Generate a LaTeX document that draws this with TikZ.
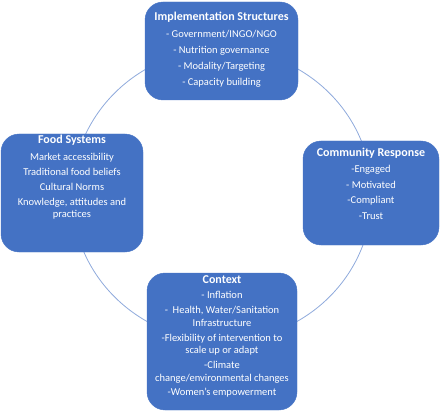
\documentclass[tikz,border=0pt]{standalone}
\usepackage{fontspec}
\setmainfont{Carlito}
\usetikzlibrary{positioning}
\definecolor{boxblue}{HTML}{4472C4}
\definecolor{ringblue}{HTML}{8FAADC}

\begin{document}
\begin{tikzpicture}[x=1pt,y=-1pt]

\tikzstyle{block} = [fill=boxblue, draw=boxblue, rounded corners=18pt, inner sep=0pt]
\tikzstyle{boxtext} = [text=white, align=center, inner sep=0pt, font=\fontsize{10.5}{12.5}\selectfont]
\tikzstyle{ring} = [draw=ringblue, line width=0.8pt]

\useasboundingbox (0,0) rectangle (440,412);

% Ring behind the boxes
\coordinate (centre) at (222,195);
\draw [ring] (centre) ellipse [x radius=150pt, y radius=146pt];

% Boxes
\node (impl) [block, minimum width=153pt, minimum height=98pt] at (221.5,51) {};
\node (food) [block, minimum width=142pt, minimum height=118pt] at (72,193) {};
\node (comm) [block, minimum width=136pt, minimum height=104pt] at (371,193) {};
\node (ctx) [block, minimum width=150pt, minimum height=137pt] at (222,341.5) {};

% Texts
\node (impltext) [boxtext, below=10pt of impl.north] {{\fontsize{12}{14}\selectfont\bfseries Implementation Structures}\\[5pt]
- Government/INGO/NGO\\[3.5pt]
- Nutrition governance\\[3.5pt]
- Modality/Targeting\\[3.5pt]
- Capacity building};

\node (foodtext) [boxtext, below=1.5pt of food.north] {{\fontsize{12}{14}\selectfont\bfseries Food Systems}\\[4pt]
Market accessibility\\[2.5pt]
Traditional food beliefs\\[2.5pt]
Cultural Norms\\[2.5pt]
Knowledge, attitudes and\\
practices};

\node (commtext) [boxtext, below=7.5pt of comm.north] {{\fontsize{12}{14}\selectfont\bfseries Community Response}\\[3.5pt]
-Engaged\\[3pt]
- Motivated\\[3pt]
-Compliant\\[3pt]
-Trust};

\node (ctxtext) [boxtext, below=2.5pt of ctx.north] {{\fontsize{12}{14}\selectfont\bfseries Context}\\[3pt]
- Inflation\\[2.5pt]
-\ \ Health, Water/Sanitation\\
Infrastructure\\[2.5pt]
-Flexibility of intervention to\\
scale up or adapt\\[2.5pt]
-Climate\\
change/environmental changes\\[1.5pt]
-Women's empowerment};

\end{tikzpicture}
\end{document}
